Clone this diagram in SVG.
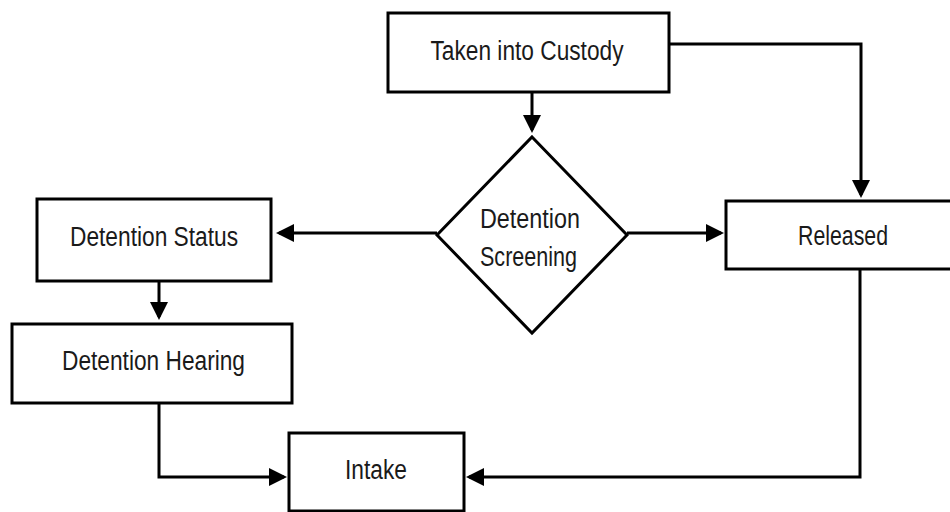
<svg xmlns="http://www.w3.org/2000/svg" width="950" height="512" viewBox="0 0 950 512">
  <style>
    .box { fill: #ffffff; stroke: #000000; stroke-width: 3; }
    .lbl { font-family: "Liberation Sans", Arial, sans-serif; font-size: 27px; fill: #1a1a1a; text-anchor: middle; }
    .conn { fill: none; stroke: #000000; stroke-width: 3; marker-end: url(#arrow); }
  </style>
  <defs>
    <marker id="arrow" markerUnits="userSpaceOnUse" markerWidth="18" markerHeight="18" viewBox="0 0 18 18" refX="15" refY="9" orient="auto">
      <path d="M0,0 L18,9 L0,18 z" fill="#000000"/>
    </marker>
  </defs>
  <rect width="950" height="512" fill="#ffffff"/>

  <g id="connectors">
    <path class="conn" d="M532,92 L532,130"/>
    <path class="conn" d="M669,44 L861,44 L861,195"/>
    <path class="conn" d="M437,233 L279,233"/>
    <path class="conn" d="M627,233 L721,233"/>
    <path class="conn" d="M159,281 L159,317"/>
    <path class="conn" d="M159,403 L159,477 L284,477"/>
    <path class="conn" d="M860,269 L860,477 L469,477"/>
  </g>

  <g id="taken-into-custody">
    <rect class="box" x="388" y="13" width="281" height="79"/>
    <text class="lbl" x="527" y="60" textLength="193" lengthAdjust="spacingAndGlyphs">Taken into Custody</text>
  </g>

  <g id="detention-screening">
    <polygon class="box" points="532,137 627,235 532,333 437,235"/>
    <text class="lbl" x="530" y="228" textLength="100" lengthAdjust="spacingAndGlyphs">Detention</text>
    <text class="lbl" x="528.5" y="266" textLength="97" lengthAdjust="spacingAndGlyphs">Screening</text>
  </g>

  <g id="detention-status">
    <rect class="box" x="37" y="199" width="234" height="82"/>
    <text class="lbl" x="154" y="246" textLength="168" lengthAdjust="spacingAndGlyphs">Detention Status</text>
  </g>

  <g id="detention-hearing">
    <rect class="box" x="12" y="324" width="280" height="79"/>
    <text class="lbl" x="153.5" y="370" textLength="183" lengthAdjust="spacingAndGlyphs">Detention Hearing</text>
  </g>

  <g id="released">
    <rect class="box" x="726" y="201" width="240" height="68"/>
    <text class="lbl" x="843" y="245" textLength="90" lengthAdjust="spacingAndGlyphs">Released</text>
  </g>

  <g id="intake">
    <rect class="box" x="289" y="433" width="175" height="78"/>
    <text class="lbl" x="376" y="479" textLength="62" lengthAdjust="spacingAndGlyphs">Intake</text>
  </g>
</svg>
